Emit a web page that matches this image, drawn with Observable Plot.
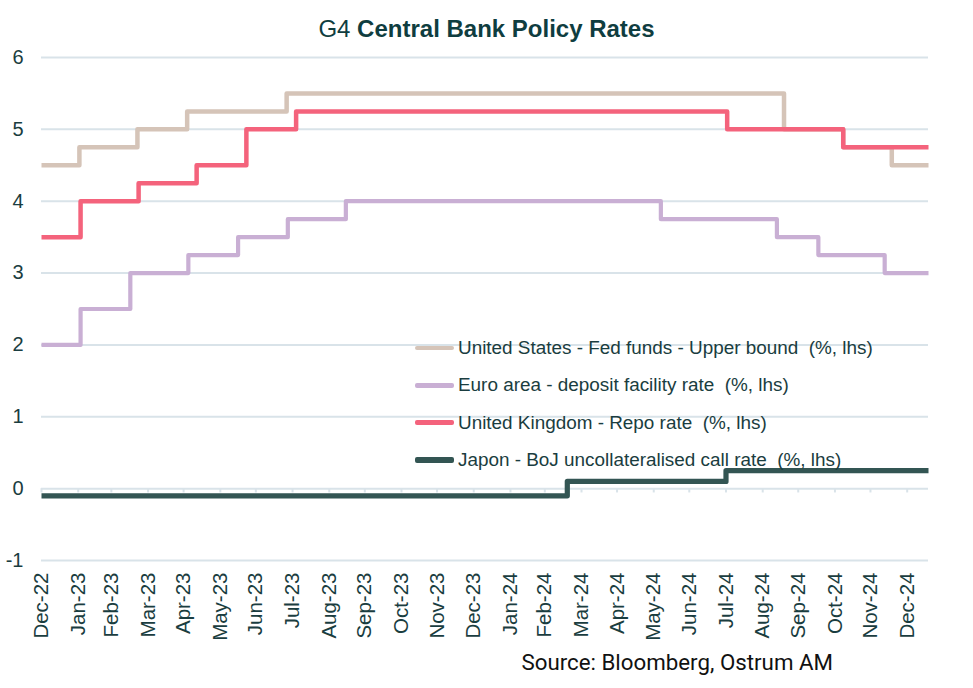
<!DOCTYPE html>
<html>
<head>
<meta charset="utf-8">
<script src="https://cdn.jsdelivr.net/npm/d3@7"></script>
<script src="https://cdn.jsdelivr.net/npm/@observablehq/plot@0.6"></script>
<style>
  html, body { margin: 0; padding: 0; background: #fff; }
  #wrap { position: relative; width: 973px; height: 688px; overflow: hidden; font-family: "Liberation Sans", Arial, sans-serif; }
  #title { position: absolute; left: 0; top: 15px; width: 973px; text-align: center; font-size: 24px; line-height: 28px; color: #0f3d40; }
  #title b { font-weight: bold; }
  #source { position: absolute; right: 140px; top: 648px; font-family: Roboto, "Liberation Sans", sans-serif; font-size: 22.3px; line-height: 28px; color: #111; }
  #legend { position: absolute; left: 415px; top: 329.5px; font-size: 18.9px; color: #1a3d40; }
  .row { height: 37.3px; display: flex; align-items: center; }
  .sw { width: 39px; border-radius: 2px; margin-right: 4px; }
  #chart { position: absolute; left: 0; top: 0; }
</style>
</head>
<body>
<div id="wrap">
  <div id="chart"></div>
  <div id="title">G4 <b>Central Bank Policy Rates</b></div>
  <div id="legend"></div>
  <div id="source">Source: Bloomberg, Ostrum AM</div>
</div>
<script>
// ---- data ----
const endDate = "2025-01-18";

const fedDates  = ["2022-12-31","2023-02-01","2023-03-22","2023-05-03","2023-07-26","2024-09-18","2024-11-07","2024-12-18"];
const fedValues = [4.5, 4.75, 5.0, 5.25, 5.5, 5.0, 4.75, 4.5];

const ecbDates  = ["2022-12-31","2023-02-02","2023-03-16","2023-05-04","2023-06-15","2023-07-27","2023-09-14","2024-06-06","2024-09-12","2024-10-17","2024-12-12"];
const ecbValues = [2.0, 2.5, 3.0, 3.25, 3.5, 3.75, 4.0, 3.75, 3.5, 3.25, 3.0];

const ukDates  = ["2022-12-31","2023-02-02","2023-03-23","2023-05-11","2023-06-22","2023-08-03","2024-08-01","2024-11-07"];
const ukValues = [3.5, 4.0, 4.25, 4.5, 5.0, 5.25, 5.0, 4.75];

const jpDates  = ["2022-12-31","2024-03-19","2024-07-31"];
const jpValues = [-0.1, 0.1, 0.25];

const seriesNames = [
  "United States - Fed funds - Upper bound  (%, lhs)",
  "Euro area - deposit facility rate  (%, lhs)",
  "United Kingdom - Repo rate  (%, lhs)",
  "Japon - BoJ uncollateralised call rate  (%, lhs)"
];
const seriesColors = ["#d5c4b8", "#c9afd4", "#f4637c", "#335553"];
const seriesWidths = [4.5, 4.2, 4.5, 5.2];

const monthEnds = ["2022-12-31","2023-01-31","2023-02-28","2023-03-31","2023-04-30","2023-05-31","2023-06-30",
  "2023-07-31","2023-08-31","2023-09-30","2023-10-31","2023-11-30","2023-12-31","2024-01-31","2024-02-29",
  "2024-03-31","2024-04-30","2024-05-31","2024-06-30","2024-07-31","2024-08-31","2024-09-30","2024-10-31",
  "2024-11-30","2024-12-31"];
const yTicks = [-1, 0, 1, 2, 3, 4, 5, 6];

// ---- build tables ----
const parse = d3.utcParse("%Y-%m-%d");
function build(dates, values) {
  const rows = dates.map((d, i) => ({date: parse(d), value: values[i]}));
  rows.push({date: parse(endDate), value: values[values.length - 1]});
  return rows;
}
const series = [
  build(fedDates, fedValues),
  build(ecbDates, ecbValues),
  build(ukDates, ukValues),
  build(jpDates, jpValues)
];
const tickDates = monthEnds.map(parse);

const fontStack = "'Liberation Sans', Arial, sans-serif";
const textColor = "#1a3d40";
const gridColor = "#d9e3e9";

const chart = Plot.plot({
  width: 973,
  height: 688,
  marginTop: 57,
  marginBottom: 128,
  marginLeft: 41,
  marginRight: 45,
  style: {fontFamily: fontStack, fontSize: "20px", color: textColor, background: "transparent", overflow: "visible"},
  x: {type: "utc", domain: [parse("2022-12-31"), parse(endDate)]},
  y: {domain: [-1, 6]},
  marks: [
    Plot.ruleY(yTicks, {stroke: gridColor, strokeWidth: 2}),
    Plot.ruleX(tickDates, {x: d => d, y1: 0, y2: -0.06, stroke: gridColor, strokeWidth: 2}),
    Plot.axisY({ticks: yTicks, tickFormat: d => String(d), tickSize: 0, tickPadding: 18, label: null, fontSize: 20, fill: textColor}),
    Plot.axisX({ticks: tickDates, tickFormat: d3.utcFormat("%b-%y"), tickRotate: -90, tickSize: 0, tickPadding: 12, label: null, fontSize: 20.5, fill: textColor}),
    ...series.map((s, i) => Plot.line(s, {
      x: "date", y: "value", curve: "step-after",
      stroke: seriesColors[i], strokeWidth: seriesWidths[i],
      strokeLinejoin: "round", strokeLinecap: "butt"
    }))
  ]
});
document.getElementById("chart").appendChild(chart);

// ---- legend ----
const legend = document.getElementById("legend");
seriesNames.forEach((name, i) => {
  const row = document.createElement("div");
  row.className = "row";
  const sw = document.createElement("div");
  sw.className = "sw";
  sw.style.background = seriesColors[i];
  sw.style.height = seriesWidths[i] + "px";
  const t = document.createElement("span");
  t.textContent = name;
  t.style.whiteSpace = "pre";
  row.appendChild(sw);
  row.appendChild(t);
  legend.appendChild(row);
});
</script>
</body>
</html>
